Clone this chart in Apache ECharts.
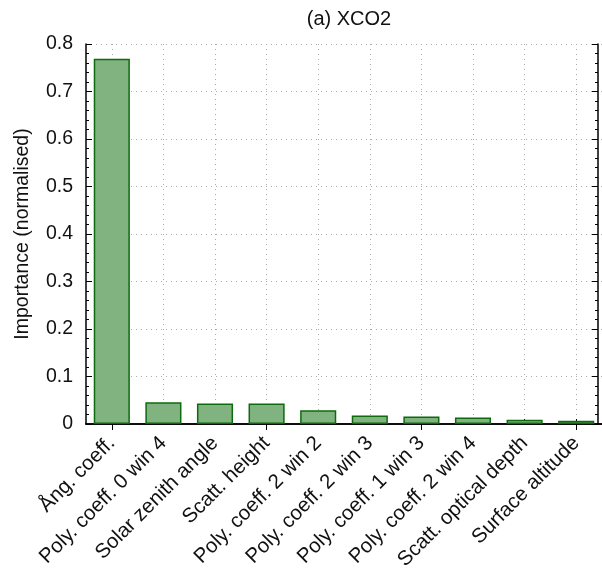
<!DOCTYPE html>
<html><head><meta charset="utf-8">
<script src="https://cdn.jsdelivr.net/npm/echarts@6/dist/echarts.min.js"></script>
<style>html,body{margin:0;padding:0;background:#fff}#c{width:602px;height:574px}</style>
</head><body><div id="c"></div>
<script>
const categories = ['Ång. coeff.', 'Poly. coeff. 0 win 4', 'Solar zenith angle', 'Scatt. height',
  'Poly. coeff. 2 win 2', 'Poly. coeff. 2 win 3', 'Poly. coeff. 1 win 3', 'Poly. coeff. 2 win 4',
  'Scatt. optical depth', 'Surface altitude'];
const importance = [0.769, 0.046, 0.043, 0.043, 0.029, 0.018, 0.016, 0.0135, 0.009, 0.007];
const yTicks = { min: 0, max: 0.8, interval: 0.1 };
const titleText = '(a) XCO2';
const yName = 'Importance (normalised)';

const FONT = 'Liberation Sans';
const chart = echarts.init(document.getElementById('c'), null, { renderer: 'canvas' });
const axisLineStyle = { color: '#000', width: 1.5 };
chart.setOption({
  animation: false,
  title: { text: titleText, left: 344, top: 4, textAlign: 'center',
    textStyle: { fontFamily: FONT, fontSize: 20, fontWeight: 'normal', color: '#111' } },
  grid: { left: 86, top: 44, width: 518, bottom: 150, containLabel: false },
  xAxis: [{
    type: 'category', data: categories, position: 'bottom',
    axisLine: { show: true, lineStyle: axisLineStyle },
    axisTick: { show: true, inside: true, alignWithLabel: true, length: 5, lineStyle: { color: '#000', width: 1 } },
    axisLabel: { rotate: 45, interval: 0, margin: 16, fontFamily: FONT, fontSize: 20.5, color: '#111' },
    splitLine: { show: true, alignWithLabel: true, lineStyle: { type: [1, 4], color: '#aaa', width: 1 } }
  }, {
    type: 'category', data: categories, position: 'top',
    axisLine: { show: true, lineStyle: axisLineStyle },
    axisTick: { show: true, inside: true, alignWithLabel: true, length: 6, lineStyle: { color: '#000', width: 1 } },
    axisLabel: { show: false }, splitLine: { show: false }
  }],
  yAxis: [{
    type: 'value', min: yTicks.min, max: yTicks.max, interval: yTicks.interval,
    name: yName, nameLocation: 'middle', nameGap: 53, nameRotate: 90,
    nameTextStyle: { fontFamily: FONT, fontSize: 19.5, color: '#111' },
    axisLine: { show: true, lineStyle: axisLineStyle },
    axisTick: { show: true, inside: true, length: 6, lineStyle: { color: '#000', width: 1 } },
    minorTick: { show: true, splitNumber: 5, length: 3, lineStyle: { color: '#000', width: 1 } },
    axisLabel: { margin: 13, fontFamily: FONT, fontSize: 19.5, color: '#111',
      formatter: v => (Math.round(v * 10) / 10).toString() },
    splitLine: { show: true, lineStyle: { type: [1, 4], color: '#aaa', width: 1 } }
  }, {
    type: 'value', min: yTicks.min, max: yTicks.max, interval: yTicks.interval, position: 'right', offset: -4,
    axisLine: { show: true, lineStyle: axisLineStyle },
    axisTick: { show: true, inside: true, length: 6, lineStyle: { color: '#000', width: 1 } },
    minorTick: { show: true, splitNumber: 5, length: 3, lineStyle: { color: '#000', width: 1 } },
    axisLabel: { show: false }, splitLine: { show: false }
  }],
  series: [{
    type: 'bar', data: importance, xAxisIndex: 0, yAxisIndex: 0, barCategoryGap: '30%',
    itemStyle: { color: '#80b380', borderColor: '#0d6b0d', borderWidth: 1.5 }
  }]
});
</script></body></html>
